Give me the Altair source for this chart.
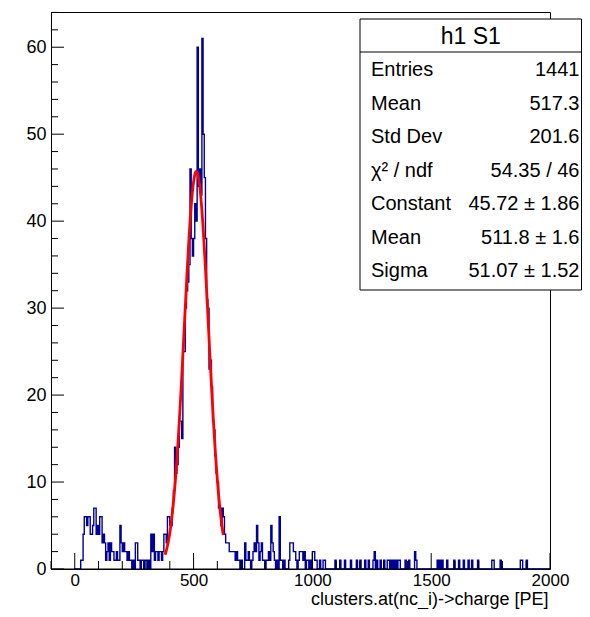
import altair as alt
import numpy as np
import pandas as pd

# ---------------- data ----------------
BIN_WIDTH = 5
main_start = 20  # low edge of first listed bin
main_counts = [
    0, 1, 1, 4, 6, 6, 5, 6, 6, 4,        # 20-65
    4, 5, 7, 7, 4, 5, 4, 6, 6, 3,        # 70-115
    4, 3, 1, 2, 3, 1, 3, 2, 2, 1,        # 120-165
    1, 2, 1, 1, 5, 3, 2, 3, 2, 2,        # 170-215
    1, 2, 1, 1, 0, 1, 0, 3, 3, 1,        # 220-265
    1, 0, 1, 1, 0, 1, 1, 0, 1, 0,        # 270-315
    4, 2, 4, 1, 2, 2, 1, 2,              # 320-355
    2, 1, 2, 4, 4, 3, 6, 6, 5, 5,        # 360-405
    7, 9, 14, 11, 12, 14, 17, 17, 15, 25,  # 410-455
    25, 30, 32, 33, 35, 46, 38, 36, 38, 42,  # 460-505
    40, 60, 44, 46, 43, 61, 50, 45, 38, 31,  # 510-555
    30, 23, 24, 21, 17, 16, 13, 11, 10, 7,   # 560-605
    7, 5, 7, 6, 4, 3, 3, 3, 2, 2,        # 610-655
    2, 2, 2, 1, 2, 1, 1, 0, 1, 0,        # 660-705
    0, 3, 1, 1, 2, 1, 0, 1, 2, 3,        # 710-755
    2, 5, 3, 1, 2, 3, 1, 1, 0, 1,        # 760-805
    1, 2, 1, 5, 3, 2, 1, 0, 1, 0,        # 810-855
    6, 1, 1, 0, 1, 0, 0, 0, 1, 3,        # 860-905
    3, 3, 2, 2, 1, 0, 1, 2, 2, 2,        # 910-955
    1, 2, 0, 1, 1, 0, 1, 0, 2, 2,        # 960-1005
    1, 1, 0, 0, 1, 0, 0, 1, 1,           # 1010-1050
]
tail_edges = [1095, 1115, 1135, 1160, 1185, 1200, 1220, 1235, 1255, 1260,
              1270, 1285, 1300, 1315, 1320, 1330, 1340, 1350, 1360, 1365,
              1390, 1405, 1430, 1435, 1525, 1535, 1545, 1565, 1595, 1615,
              1635, 1655, 1670, 1695, 1755, 1760, 1790, 1875, 1880, 1900]
tail_counts = [1, 1, 1, 1, 1, 1, 1, 1, 1, 2,
               1, 1, 1, 1, 1, 1, 1, 1, 1, 1,
               1, 1, 2, 1, 1, 1, 1, 1, 1, 1,
               1, 1, 1, 1, 1, 1, 1, 1, 1, 1]

# fit parameters from the stats box
fit_constant = 45.72
fit_mean = 511.8
fit_sigma = 51.07
fit_lo, fit_hi = 380, 625

x_major = [0, 500, 1000, 1500, 2000]
x_minor = [v for v in range(-100, 2001, 100) if v % 500 != 0]
y_major = [0, 10, 20, 30, 40, 50, 60]
y_minor = [v for v in range(0, 65, 2) if v % 10 != 0]

stats_title = "h1 S1"
stats_labels = ["Entries", "Mean", "Std Dev", "\u03c7\u00b2 / ndf", "Constant", "Mean", "Sigma"]
stats_values = ["1441", "517.3", "201.6", "54.35 / 46", "45.72 \u00b1 1.86", "511.8 \u00b1 1.6", "51.07 \u00b1 1.52"]
x_title = "clusters.at(nc_i)->charge [PE]"

# ---------------- build tables ----------------
edges = list(range(0, 2000, BIN_WIDTH))
counts = [0] * len(edges)
for i, c in enumerate(main_counts):
    counts[(main_start + i * BIN_WIDTH) // BIN_WIDTH] = c
for e, c in zip(tail_edges, tail_counts):
    counts[e // BIN_WIDTH] = c
hist_df = pd.DataFrame({"x": edges + [2000], "y": counts + [0]})

fx = np.linspace(fit_lo, fit_hi, 150)
fit_df = pd.DataFrame({"x": fx, "y": fit_constant * np.exp(-0.5 * ((fx - fit_mean) / fit_sigma) ** 2)})

W, H = 499, 557
FONT = "Liberation Sans"
xscale = alt.Scale(domain=[-100, 2000], nice=False, zero=False)
yscale = alt.Scale(domain=[0, 64.05], nice=False, zero=False)

hist = alt.Chart(hist_df).mark_line(interpolate="step-after", color="#000099", strokeWidth=1.4).encode(
    x=alt.X("x:Q", scale=xscale, axis=alt.Axis(
        values=x_major, ticks=False, tickSize=0, domain=False, grid=False,
        labelFont=FONT, labelFontSize=17, labelColor="black", labelPadding=3,
        labelFlush=False, labelOverlap=False, format="d",
        title=x_title, titleFont=FONT, titleFontSize=18, titleFontWeight="normal",
        titleColor="black", titleX=497, titleY=35, titleAlign="right",
        titleBaseline="alphabetic")),
    y=alt.Y("y:Q", scale=yscale, axis=alt.Axis(
        values=y_major, ticks=False, tickSize=0, domain=False, grid=False,
        labelFont=FONT, labelFontSize=18, labelColor="black", labelPadding=5,
        format="d", title=None)),
)

fit = alt.Chart(fit_df).mark_line(color="#ff0000", strokeWidth=2.8).encode(
    x=alt.X("x:Q", scale=xscale),
    y=alt.Y("y:Q", scale=yscale),
)

baseline = alt.Chart(pd.DataFrame({"d": [0]})).mark_rule(color="black", strokeWidth=1).encode(
    x=alt.value(0), x2=alt.value(W), y=alt.value(H))


def xticks(vals, length):
    return alt.Chart(pd.DataFrame({"x": vals})).mark_rule(color="black", strokeWidth=1).encode(
        x=alt.X("x:Q", scale=xscale), y=alt.value(H), y2=alt.value(H - length))


def yticks(vals, length):
    return alt.Chart(pd.DataFrame({"y": vals})).mark_rule(color="black", strokeWidth=1).encode(
        y=alt.Y("y:Q", scale=yscale), x=alt.value(0), x2=alt.value(length))


one = pd.DataFrame({"d": [0]})
BX0, BX1, BY0, BY1 = 309, 530.5, 7, 278
box = alt.Chart(one).mark_rect(fill="white", stroke="black", strokeWidth=1).encode(
    x=alt.value(BX0), x2=alt.value(BX1), y=alt.value(BY0), y2=alt.value(BY1))
divider = alt.Chart(one).mark_rule(color="black", strokeWidth=1).encode(
    x=alt.value(BX0), x2=alt.value(BX1), y=alt.value(40))
title_txt = alt.Chart(one).mark_text(font=FONT, fontSize=23, color="black", align="center", baseline="middle").encode(
    x=alt.value((BX0 + BX1) / 2), y=alt.value(25), text=alt.value(stats_title))

rows = []
for i, (lab, val) in enumerate(zip(stats_labels, stats_values)):
    yy = 58 + i * 33.5
    rows.append(alt.Chart(one).mark_text(font=FONT, fontSize=20, color="black", align="left", baseline="middle").encode(
        x=alt.value(BX0 + 11), y=alt.value(yy), text=alt.value(lab)))
    rows.append(alt.Chart(one).mark_text(font=FONT, fontSize=20, color="black", align="right", baseline="middle").encode(
        x=alt.value(BX1 - 2), y=alt.value(yy), text=alt.value(val)))

chart = alt.layer(
    hist, fit, baseline,
    xticks(x_major, 16), xticks(x_minor, 8),
    yticks(y_major, 13), yticks(y_minor, 7),
    box, divider, title_txt, *rows,
).properties(
    width=W, height=H,
    autosize=alt.AutoSizeParams(type="none"),
    padding={"left": 43, "top": 4, "right": 32, "bottom": 40},
    background="white",
).configure_view(stroke="black", strokeWidth=1)

chart.save("out.html", embed_options={"renderer": "svg", "actions": False})
